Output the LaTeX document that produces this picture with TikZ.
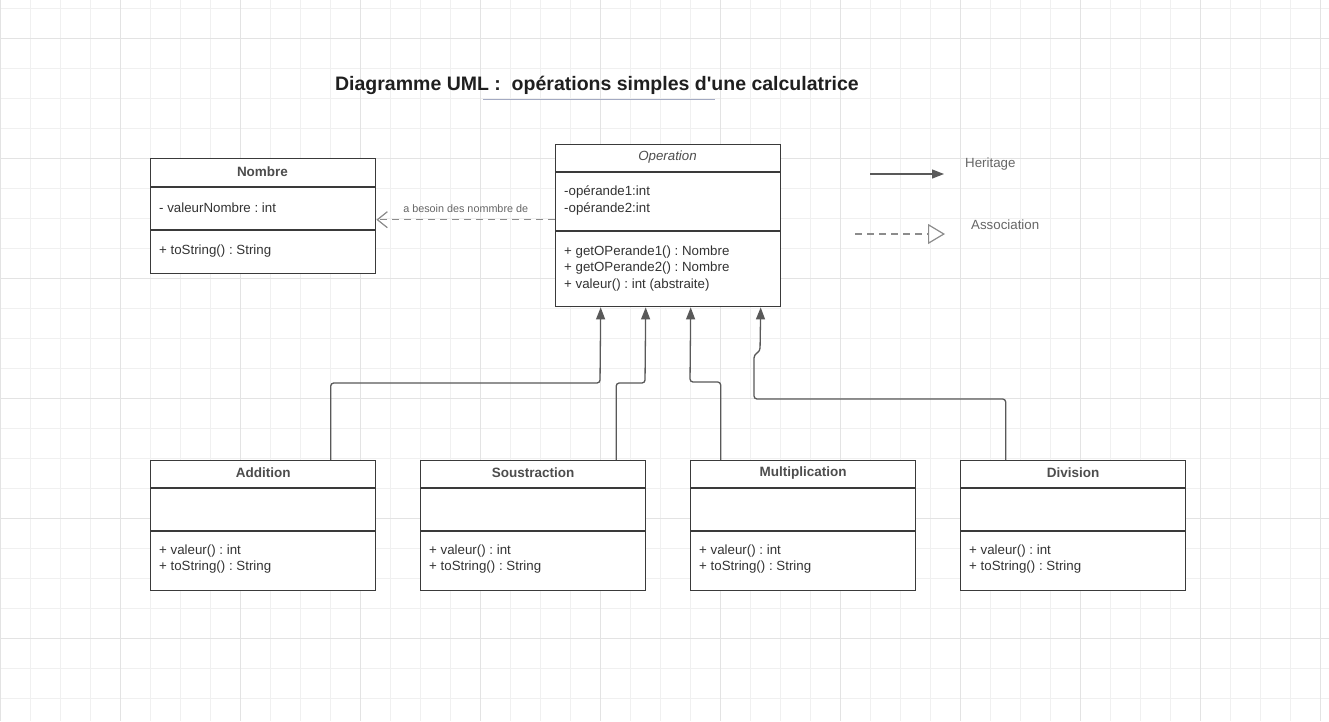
\documentclass[tikz,border=0pt]{standalone}
\usepackage{fontspec}
\setmainfont{Liberation Sans}
\usetikzlibrary{arrows.meta}
\frenchspacing
\definecolor{gminor}{HTML}{F0F0F0}
\definecolor{gmajor}{HTML}{E3E3E3}
\definecolor{boxc}{HTML}{3A3A3A}
\definecolor{txt}{HTML}{333333}
\definecolor{hdr}{HTML}{4D4D4D}
\definecolor{conn}{HTML}{595959}
\definecolor{assocc}{HTML}{8C8C8C}
\definecolor{lbl}{HTML}{666666}
\definecolor{uline}{HTML}{A3AAC2}
\begin{document}
\frenchspacing
\begin{tikzpicture}[x=1pt,y=-1pt,
  cls/.style={draw=boxc, line width=1.4pt, fill=white, inner sep=0pt, anchor=north west, minimum width=225pt},
  divline/.style={draw=boxc, line width=1.4pt},
  member/.style={anchor=west, inner sep=0pt, text=txt, font=\fontsize{13.3}{15}\selectfont},
  head/.style={anchor=center, inner sep=0pt, text=hdr, font=\fontsize{13.5}{15}\selectfont\bfseries},
  inh/.style={draw=conn, line width=1.3pt, rounded corners=3pt, -{Triangle[length=12pt,width=9pt]}},
  assoc/.style={draw=assocc, line width=1.2pt, dash pattern=on 7pt off 5pt},
  lbl/.style={inner sep=0pt, text=lbl, font=\fontsize{13.3}{15}\selectfont},
]
% background and grid
\fill[white] (0,0) rectangle (1329,721);
\useasboundingbox (0,0) rectangle (1329,721);
\foreach \x in {30,60,...,1320} \draw[gminor, line width=0.9pt] (\x,0) -- (\x,721);
\foreach \y in {8,38,...,720} \draw[gminor, line width=0.9pt] (0,\y) -- (1329,\y);
\foreach \x in {0.5,120,240,...,1320} \draw[gmajor, line width=1pt] (\x,0) -- (\x,721);
\foreach \y in {38,158,...,720} \draw[gmajor, line width=1pt] (0,\y) -- (1329,\y);

% title
\node[inner sep=0pt, text=black!88, font=\fontsize{19.5}{22}\selectfont\bfseries] (title) at (597,85) {Diagramme UML :~~opérations simples d\textquotesingle une calculatrice};
\coordinate (ul1) at (483,99);
\coordinate (ul2) at (715,99);
\draw[uline, line width=1pt] (ul1) -- (ul2);

% Nombre
\node[cls, minimum height=115pt] (nb) at (150,158) {};
\draw[divline] (150,187) -- (375,187);
\draw[divline] (150,230) -- (375,230);
\node[head] (nbt) at (262.5,171.5) {Nombre};
\node[member] (nba) at (159,208) {- valeurNombre : int};
\node[member] (nbm) at (159,251) {+ toString() : String};

% Operation
\node[cls, minimum height=162pt] (op) at (555,144) {};
\draw[divline] (555,172) -- (780,172);
\draw[divline] (555,231) -- (780,231);
\node[head, font=\fontsize{13.3}{15}\selectfont\itshape] (opt) at (667.5,157) {Operation};
\node[member] (opa1) at (564,192) {-opérande1:int};
\node[member] (opa2) at (564,209) {-opérande2:int};
\node[member] (opm1) at (564,252) {+ getOPerande1() : Nombre};
\node[member] (opm2) at (564,268.5) {+ getOPerande2() : Nombre};
\node[member] (opm3) at (564,285) {+ valeur() : int (abstraite)};

% subclasses
\foreach \nm/\xx/\lab in {add/150/Addition, sou/420/Soustraction, mul/690/Multiplication, dv/960/Division}{
  \node[cls, minimum height=130pt] (\nm) at (\xx,460) {};
  \draw[divline] (\xx,488) -- ++(225,0);
  \draw[divline] (\xx,531) -- ++(225,0);
  \node[head] (\nm-t) at (\nm.north) [yshift=-12.5pt] {\lab};
  \node[member] (\nm-m1) at (\xx+9,551.5) {+ valeur() : int};
  \node[member] (\nm-m2) at (\xx+9,567.5) {+ toString() : String};
}

% inheritance connectors
\draw[inh] ([xshift=67.5pt]add.north) |- (600,383) -- ([xshift=-67.5pt]op.south);
\draw[inh] ([xshift=83pt]sou.north) |- (645,383) -- ([xshift=-22.5pt]op.south);
\draw[inh] ([xshift=-82.5pt]mul.north) |- (690,382) -- ([xshift=22.5pt]op.south);
\draw[inh] ([xshift=-67.5pt]dv.north) |- (754,399) -- (754,355) -- (760,351) -- ([xshift=92.5pt]op.south);

% association
\draw[assoc, -{Straight Barb[length=10pt,width=16pt]}] ([yshift=6pt]op.west) -- ([yshift=-3.5pt]nb.east)
  node[midway, yshift=11pt, lbl, font=\fontsize{10.8}{13}\selectfont] (asl) {a besoin des nommbre de};

% legend
\coordinate (h1) at (870,174);
\coordinate (h2) at (944,174);
\draw[inh] (h1) -- (h2);
\node[lbl, anchor=west] (hl) at (965,164.5) {Heritage};
\coordinate (a1) at (855,234);
\coordinate (a2) at (945,234);
\draw[assoc, -{Triangle[open, length=17pt, width=20pt, fill=white]}] (a1) -- (a2);
\node[lbl, anchor=west] (al) at (971,224.5) {Association};
\end{tikzpicture}
\end{document}
